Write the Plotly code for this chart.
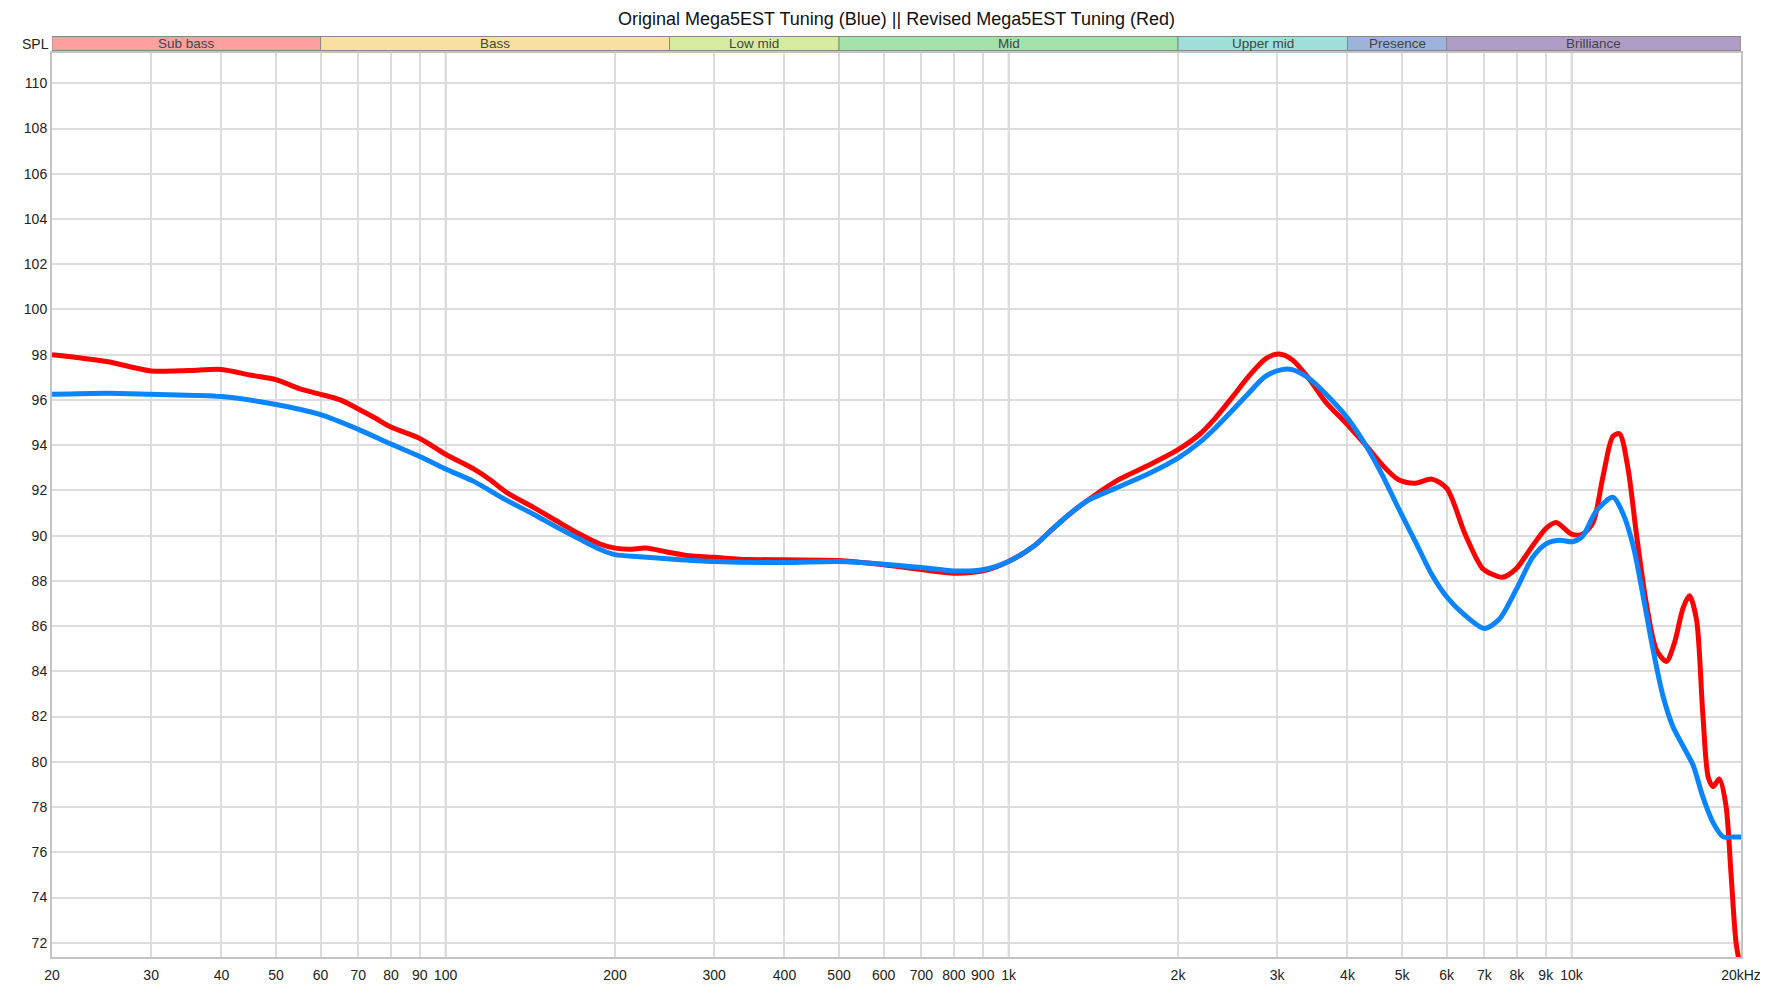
import plotly.graph_objects as go
import math

# ---------------- data ----------------
red_freq = [20, 25, 30, 35, 40, 45, 50, 55, 60, 65, 70, 75, 80, 90, 100, 112, 120, 128, 143, 157, 173, 188,
            200, 212, 227, 246, 271, 300, 333, 400, 500, 600, 700, 800, 900, 1000, 1108, 1186, 1270, 1377,
            1550, 1780, 2000, 2180, 2330, 2490, 2670, 2860, 3020, 3190, 3410, 3650, 4000, 4310, 4610, 4930,
            5280, 5650, 6000, 6480, 6950, 7250, 7540, 7970, 8530, 9010, 9390, 10000, 10470, 10920, 11370,
            11850, 12170, 12600, 13040, 13580, 14150, 14740, 15250, 15780, 16200, 16670, 17100, 17500, 17850,
            18300, 18800, 19200, 19600, 20000]
red_spl = [98.0, 97.7, 97.28, 97.3, 97.35, 97.1, 96.9, 96.5, 96.25, 96.0, 95.6, 95.2, 94.8, 94.3, 93.6, 92.96,
           92.47, 91.93, 91.26, 90.67, 90.07, 89.63, 89.45, 89.4, 89.45, 89.29, 89.11, 89.04, 88.96, 88.93,
           88.9, 88.71, 88.5, 88.34, 88.44, 88.86, 89.53, 90.2, 90.86, 91.53, 92.4, 93.13, 93.8, 94.46, 95.2,
           96.08, 97.04, 97.82, 98.03, 97.78, 96.97, 95.94, 94.9, 94.0, 93.13, 92.47, 92.32, 92.5, 92.1, 90.03,
           88.55, 88.28, 88.16, 88.53, 89.55, 90.32, 90.58, 90.07, 90.07, 90.58, 92.6, 94.4, 94.5, 92.96,
           90.07, 87.0, 84.95, 84.44, 85.3, 86.8, 87.34, 86.3, 82.2, 79.3, 78.9, 79.24, 78.1, 75.06, 72.0, 70.8]

blue_freq = [20, 25, 30, 40, 50, 60, 70, 80, 90, 100, 112, 128, 143, 157, 173, 188, 200, 221, 254, 300, 400,
             500, 600, 700, 800, 900, 1000, 1108, 1186, 1270, 1377, 1550, 1780, 2000, 2180, 2330, 2490, 2670,
             2860, 3060, 3190, 3410, 3650, 4000, 4310, 4610, 4930, 5280, 5650, 6000, 6460, 7000, 7440, 7970,
             8530, 9010, 9510, 10050, 10470, 11070, 11850, 12330, 12870, 13400, 13960, 14540, 15150, 15780,
             16450, 17100, 17850, 18600, 19400, 20000]
blue_spl = [96.25, 96.3, 96.25, 96.15, 95.8, 95.35, 94.7, 94.05, 93.5, 92.95, 92.41, 91.58, 90.96, 90.4, 89.85,
            89.4, 89.16, 89.07, 88.96, 88.86, 88.81, 88.86, 88.74, 88.59, 88.44, 88.49, 88.86, 89.53, 90.2,
            90.86, 91.53, 92.1, 92.76, 93.43, 94.1, 94.76, 95.5, 96.3, 97.04, 97.34, 97.34, 96.97, 96.3, 95.2,
            94.0, 92.69, 91.2, 89.74, 88.27, 87.3, 86.49, 85.9, 86.3, 87.6, 89.04, 89.64, 89.8, 89.73, 89.98,
            91.1, 91.7, 91.0, 89.55, 87.34, 84.95, 82.9, 81.54, 80.7, 79.84, 78.47, 77.3, 76.68, 76.68, 76.68]

x_tickvals = [20, 30, 40, 50, 60, 70, 80, 90, 100, 200, 300, 400, 500, 600, 700, 800, 900,
              1000, 2000, 3000, 4000, 5000, 6000, 7000, 8000, 9000, 10000, 20000]
x_ticktext = ["20", "30", "40", "50", "60", "70", "80", "90", "100", "200", "300", "400", "500", "600",
              "700", "800", "900", "1k", "2k", "3k", "4k", "5k", "6k", "7k", "8k", "9k", "10k", "20kHz"]
y_tickvals = list(range(72, 111, 2))

band_names = ["Sub bass", "Bass", "Low mid", "Mid", "Upper mid", "Presence", "Brilliance"]
band_edges = [20, 60, 250, 500, 2000, 4000, 6000, 20000]
band_colors = ["#FFA0A0", "#F8E1A0", "#D6EBA0", "#A2E2A8", "#A0DED8", "#9EB3DA", "#B09DC6"]

title_text = "Original Mega5EST Tuning (Blue) || Revised Mega5EST Tuning (Red)"

# ---------------- figure ----------------
# The page body has an 8px default margin, so the figure is sized/offset to compensate.
OFF = 8
W, H = 1768 - OFF, 984 - OFF
plot_left, plot_top, plot_right, plot_bottom = 52 - OFF, 53 - OFF, 1741 - OFF, 957 - OFF
L, T = plot_left, plot_top
R, B = W - plot_right, H - plot_bottom
ph = plot_bottom - plot_top

FONT = "Liberation Sans, Arial, Helvetica, sans-serif"

fig = go.Figure()
fig.add_trace(go.Scatter(x=red_freq, y=red_spl, mode="lines",
                         line=dict(color="#FF0000", width=5, shape="spline", smoothing=0.8),
                         name="Revised", hoverinfo="x+y"))
fig.add_trace(go.Scatter(x=blue_freq, y=blue_spl, mode="lines",
                         line=dict(color="#0A84FF", width=5, shape="spline", smoothing=0.8),
                         name="Original", hoverinfo="x+y"))

shapes = []
annotations = []
band_bottom = (plot_bottom - (50.5 - OFF)) / ph
band_top = (plot_bottom - (36.5 - OFF)) / ph
for i, name in enumerate(band_names):
    x0, x1 = band_edges[i], band_edges[i + 1]
    shapes.append(dict(type="rect", xref="x", yref="paper", x0=x0, x1=x1, y0=band_bottom, y1=band_top,
                       fillcolor=band_colors[i], line=dict(color="#888888", width=1), layer="above"))
    annotations.append(dict(x=math.log10(math.sqrt(x0 * x1)), y=(band_bottom + band_top) / 2,
                            xref="x", yref="paper", text=name, showarrow=False,
                            font=dict(family=FONT, size=13.5, color="#444444"),
                            xanchor="center", yanchor="middle"))

annotations.append(dict(x=0, y=(band_bottom + band_top) / 2, xref="paper", yref="paper", text="SPL",
                        showarrow=False, xanchor="right", yanchor="middle", xshift=-1,
                        font=dict(family=FONT, size=14, color="#222222")))

for f in [100, 1000, 10000]:
    shapes.append(dict(type="line", xref="x", yref="paper", x0=f, x1=f, y0=0, y1=1,
                       line=dict(color="#BBBBBB", width=1.5), layer="between"))

fig.update_layout(
    width=W, height=H,
    margin=dict(l=L, r=R, t=T, b=B, pad=0, autoexpand=False),
    paper_bgcolor="white", plot_bgcolor="white",
    showlegend=False,
    title=dict(text=title_text, x=0.5, xanchor="center", xref="paper",
               y=1 - (18.3 - OFF) / H, yanchor="middle",
               font=dict(family=FONT, size=18, color="#111111")),
    xaxis=dict(type="log", range=[math.log10(20), math.log10(20000)], automargin=False,
               tickvals=x_tickvals, ticktext=x_ticktext, showgrid=True, gridcolor="#DCDCDC", gridwidth=1.5,
               showline=True, linecolor="#C4C4C4", linewidth=2, mirror=True, ticks="", zeroline=False,
               ticklabelstandoff=4,
               tickfont=dict(family=FONT, size=14, color="#222222")),
    yaxis=dict(range=[71.37, 111.34], tickvals=y_tickvals, showgrid=True, gridcolor="#DCDCDC", gridwidth=1.5,
               automargin=False,
               showline=True, linecolor="#C4C4C4", linewidth=2, mirror=True, ticks="", zeroline=False,
               tickfont=dict(family=FONT, size=14, color="#222222")),
    shapes=shapes,
    annotations=annotations,
)

fig.write_html("out.html")
